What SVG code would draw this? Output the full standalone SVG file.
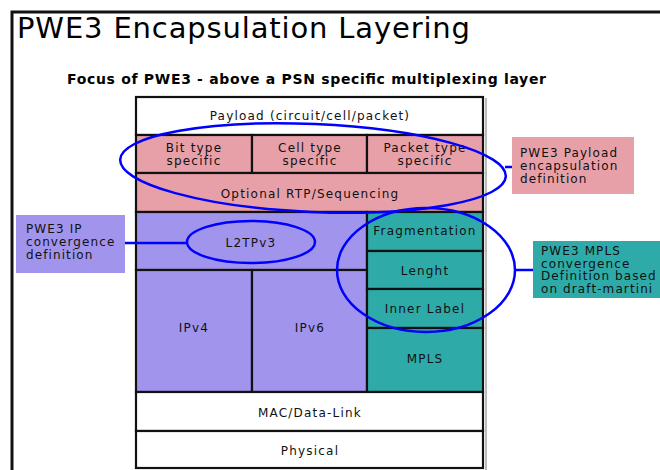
<svg xmlns="http://www.w3.org/2000/svg" width="660" height="470" viewBox="0 0 660 470">
<style>
.t{font-family:"DejaVu Sans","Verdana",sans-serif;font-size:12px;letter-spacing:1.2px;fill:#111;text-anchor:middle}
.l{font-family:"DejaVu Sans","Verdana",sans-serif;font-size:12px;letter-spacing:1.1px;fill:#111}
.cell{stroke:#111;stroke-width:2.2}
.w{fill:#fff}.p{fill:#E8A0A8}.v{fill:#A194EC}.g{fill:#2EABA9}
.ring{fill:none;stroke:#0000FF;stroke-width:2.5}
</style>
<rect width="660" height="470" fill="#fff"/>
<path d="M12,470 V12 H660" fill="none" stroke="#111" stroke-width="3"/>
<text x="17" y="38" font-family="DejaVu Sans, Verdana, sans-serif" font-size="29" textLength="453" fill="#000">PWE3 Encapsulation Layering</text>
<text x="67" y="84" font-family="DejaVu Sans, Verdana, sans-serif" font-size="14" font-weight="bold" textLength="479" fill="#000">Focus of PWE3 - above a PSN specific multiplexing layer</text>

<line x1="486" y1="98" x2="486" y2="470" stroke="#bbb" stroke-width="2"/>

<g id="payload"><rect class="cell w" x="136" y="97" width="347" height="38"/><text class="t" x="310" y="120">Payload (circuit/cell/packet)</text></g>
<g id="bit"><rect class="cell p" x="136" y="135" width="116" height="38"/><text class="t" x="194" y="152">Bit type</text><text class="t" x="194" y="165">specific</text></g>
<g id="cell"><rect class="cell p" x="252" y="135" width="115" height="38"/><text class="t" x="310" y="152">Cell type</text><text class="t" x="310" y="165">specific</text></g>
<g id="packet"><rect class="cell p" x="367" y="135" width="116" height="38"/><text class="t" x="425" y="152">Packet type</text><text class="t" x="425" y="165">specific</text></g>
<g id="rtp"><rect class="cell p" x="136" y="173" width="347" height="39"/><text class="t" x="310" y="198">Optional RTP/Sequencing</text></g>
<g id="l2tp"><rect class="cell v" x="136" y="212" width="231" height="58"/><text class="t" x="251" y="247">L2TPv3</text></g>
<g id="ipv4"><rect class="cell v" x="136" y="270" width="116" height="122"/><text class="t" x="194" y="332">IPv4</text></g>
<g id="ipv6"><rect class="cell v" x="252" y="270" width="115" height="122"/><text class="t" x="310" y="332">IPv6</text></g>
<g id="frag"><rect class="cell g" x="367" y="212" width="116" height="39"/><text class="t" x="425" y="235">Fragmentation</text></g>
<g id="length"><rect class="cell g" x="367" y="251" width="116" height="38"/><text class="t" x="425" y="275">Lenght</text></g>
<g id="inner"><rect class="cell g" x="367" y="289" width="116" height="39"/><text class="t" x="425" y="313">Inner Label</text></g>
<g id="mpls"><rect class="cell g" x="367" y="328" width="116" height="64"/><text class="t" x="425" y="363">MPLS</text></g>
<g id="mac"><rect class="cell w" x="136" y="392" width="347" height="39"/><text class="t" x="310" y="417">MAC/Data-Link</text></g>
<g id="phys"><rect class="cell w" x="136" y="431" width="347" height="37"/><text class="t" x="310" y="455">Physical</text></g>

<g id="payload-def"><rect x="512" y="137" width="122" height="57" fill="#E8A0A8"/><text class="l" x="520" y="157">PWE3 Payload</text><text class="l" x="520" y="170">encapsulation</text><text class="l" x="520" y="183">definition</text></g>
<g id="ip-def"><rect x="16" y="215" width="109" height="58" fill="#A194EC"/><text class="l" x="26" y="233">PWE3 IP</text><text class="l" x="26" y="246">convergence</text><text class="l" x="26" y="259">definition</text></g>
<g id="mpls-def"><rect x="533" y="241" width="127" height="57" fill="#2EABA9"/><text class="l" x="541" y="255">PWE3 MPLS</text><text class="l" x="541" y="267.5">convergence</text><text class="l" x="541" y="280">Definition based</text><text class="l" x="541" y="292.5">on draft-martini</text></g>

<g id="connectors">
<ellipse class="ring" cx="313" cy="168" rx="193" ry="44" transform="rotate(2.5 313 168)"/>
<line class="ring" x1="505" y1="167" x2="512" y2="167"/>
<ellipse class="ring" cx="251" cy="242" rx="64" ry="21"/>
<line class="ring" x1="125" y1="243" x2="187" y2="243"/>
<ellipse class="ring" cx="426" cy="270" rx="89" ry="62"/>
<line class="ring" x1="515" y1="270" x2="533" y2="270"/>
</g>
</svg>
